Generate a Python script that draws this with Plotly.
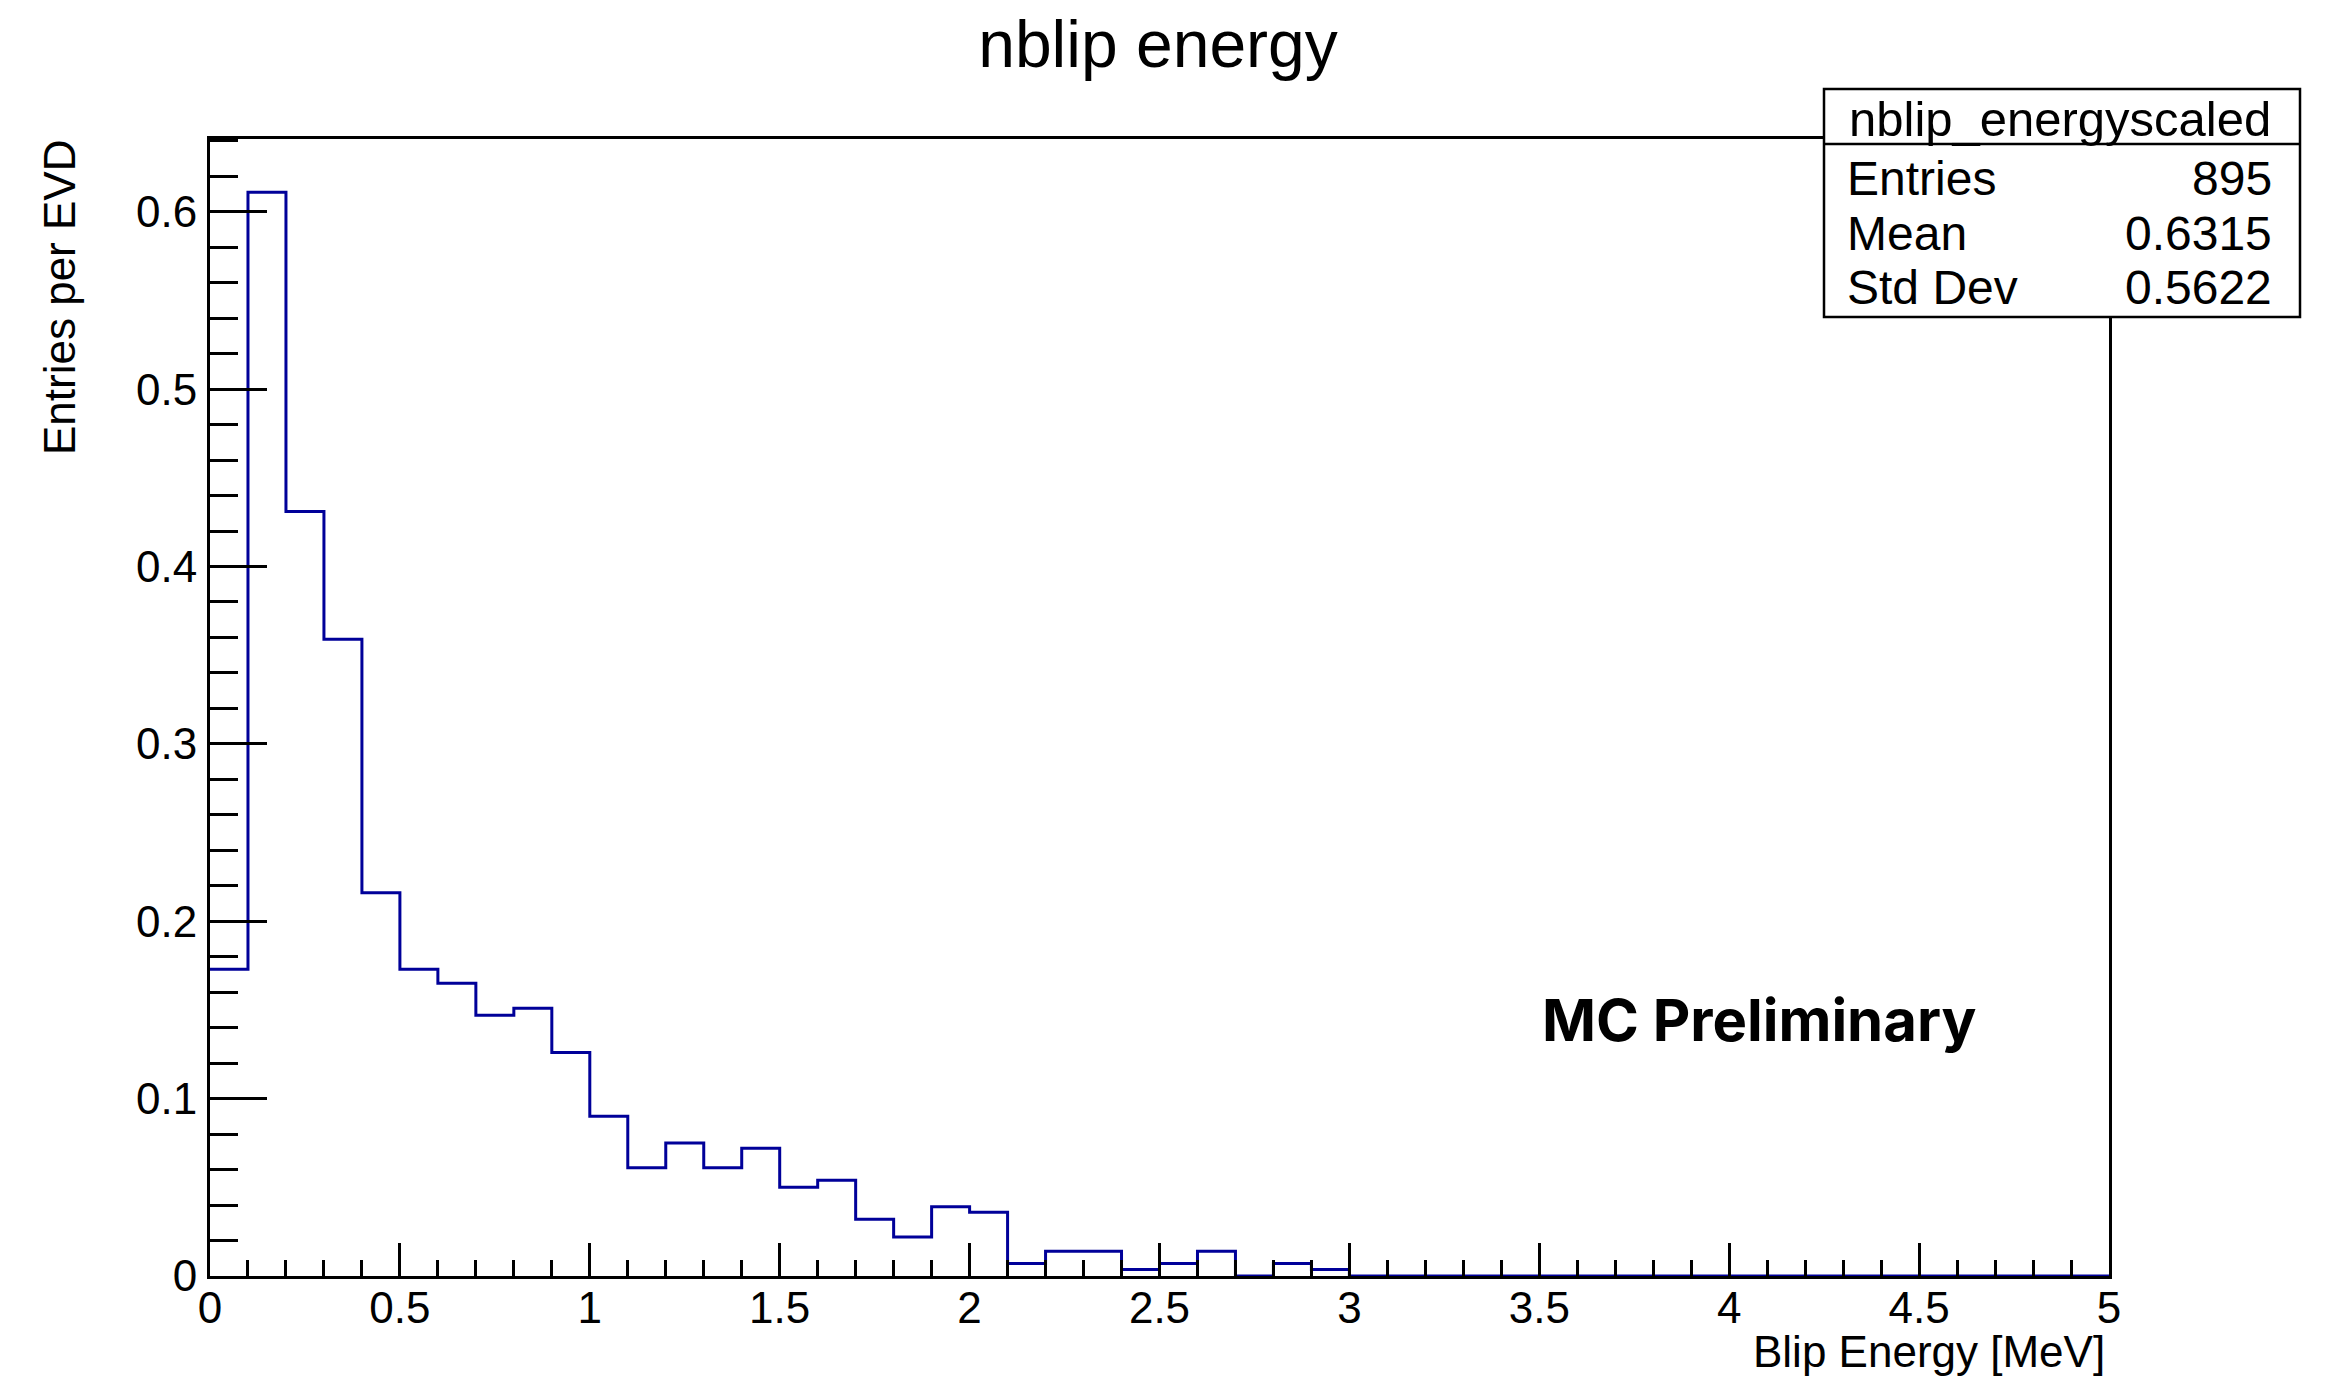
import plotly.graph_objects as go

# ---- data ----
bin_edges = [round(i * 0.1, 1) for i in range(51)]  # 0.0 ... 5.0, bin width 0.1
entries_per_evd = [
    0.173, 0.611, 0.431, 0.359, 0.216, 0.173, 0.165, 0.147, 0.151, 0.126,
    0.090, 0.061, 0.075, 0.061, 0.072, 0.050, 0.054, 0.032, 0.022, 0.039,
    0.036, 0.007, 0.014, 0.014, 0.0036, 0.007, 0.014, 0.0, 0.007, 0.0036,
    0, 0, 0, 0, 0, 0, 0, 0, 0, 0,
    0, 0, 0, 0, 0, 0, 0, 0, 0, 0,
]
stats_name = "nblip_energyscaled"
stats_labels = ["Entries", "Mean", "Std Dev"]
stats_values = ["895", "0.6315", "0.5622"]

W, H = 2326, 1378          # target page size
OFF = 8                    # browser body margin
L, R, T, B = 210, 217, 139, 102   # plot area in page pixels
PW, PH = W - L - R, H - T - B


def px(xp):
    return (xp - L) / PW


def py(yp):
    return (H - B - yp) / PH


FONT = "Liberation Sans, Arial, Helvetica, sans-serif"

xs = bin_edges[:-1] + [bin_edges[-1]]
ys = entries_per_evd + [entries_per_evd[-1]]

fig = go.Figure()
fig.add_trace(go.Scatter(
    x=xs, y=ys, mode="lines", line=dict(shape="hv", color="rgb(0,0,153)", width=3),
    showlegend=False, hoverinfo="skip",
))

fig.update_layout(
    width=W - OFF, height=H - OFF,
    margin=dict(l=L - OFF, r=R, t=T - OFF, b=B, pad=0),
    paper_bgcolor="white", plot_bgcolor="white",
    font=dict(family=FONT, size=44, color="black"),
    title=dict(text="nblip energy", x=(1158 - OFF) / (W - OFF), xanchor="center",
               y=1 - (44 - OFF) / (H - OFF), yanchor="middle",
               font=dict(family=FONT, size=66, color="black")),
    showlegend=False,
)

fig.update_xaxes(
    range=[0, 5], showgrid=False, zeroline=False,
    showline=True, linecolor="black", linewidth=3, mirror=True,
    ticks="inside", ticklen=33, tickwidth=3, tickcolor="black",
    tick0=0, dtick=0.5,
    minor=dict(dtick=0.1, ticks="inside", ticklen=16, tickwidth=3, tickcolor="black", showgrid=False),
    tickfont=dict(family=FONT, size=44, color="black"),
    ticklabelstandoff=-9,
)
fig.update_yaxes(
    range=[0, 0.641], showgrid=False, zeroline=False,
    showline=True, linecolor="black", linewidth=3, mirror=True,
    ticks="inside", ticklen=57, tickwidth=3, tickcolor="black",
    tick0=0, dtick=0.1,
    minor=dict(dtick=0.02, ticks="inside", ticklen=28, tickwidth=3, tickcolor="black", showgrid=False),
    tickfont=dict(family=FONT, size=44, color="black"),
    ticklabelstandoff=1,
)

annotations = [
    dict(text="Entries per EVD", xref="paper", yref="paper", x=px(59), y=py(298),
         xanchor="center", yanchor="middle", textangle=-90, showarrow=False,
         font=dict(family=FONT, size=44, color="black")),
    dict(text="Blip Energy [MeV]", xref="paper", yref="paper", x=px(2107), y=py(1351),
         xanchor="right", yanchor="middle", showarrow=False,
         font=dict(family=FONT, size=44, color="black")),
    dict(text="<b>MC Preliminary</b>", xref="paper", yref="paper", x=px(1540), y=py(1020),
         xanchor="left", yanchor="middle", showarrow=False,
         font=dict(family="Inter, Noto Sans, sans-serif", size=58, color="black")),
    dict(text=stats_name, xref="paper", yref="paper", x=px(2060), y=py(119),
         xanchor="center", yanchor="middle", showarrow=False,
         font=dict(family=FONT, size=49, color="black")),
]
row_y = [178, 233, 288]
for lab, val, yy in zip(stats_labels, stats_values, row_y):
    annotations.append(dict(text=lab, xref="paper", yref="paper", x=px(1845), y=py(yy),
                            xanchor="left", yanchor="middle", showarrow=False,
                            font=dict(family=FONT, size=48, color="black")))
    annotations.append(dict(text=val, xref="paper", yref="paper", x=px(2274), y=py(yy),
                            xanchor="right", yanchor="middle", showarrow=False,
                            font=dict(family=FONT, size=48, color="black")))
fig.update_layout(annotations=annotations)

fig.add_shape(type="rect", xref="paper", yref="paper",
              x0=px(1824), x1=px(2300), y0=py(317), y1=py(89),
              line=dict(color="black", width=2.5), fillcolor="white", layer="above")
fig.add_shape(type="line", xref="paper", yref="paper",
              x0=px(1824), x1=px(2300), y0=py(144), y1=py(144),
              line=dict(color="black", width=2.5), layer="above")

fig.write_html("out.html")
